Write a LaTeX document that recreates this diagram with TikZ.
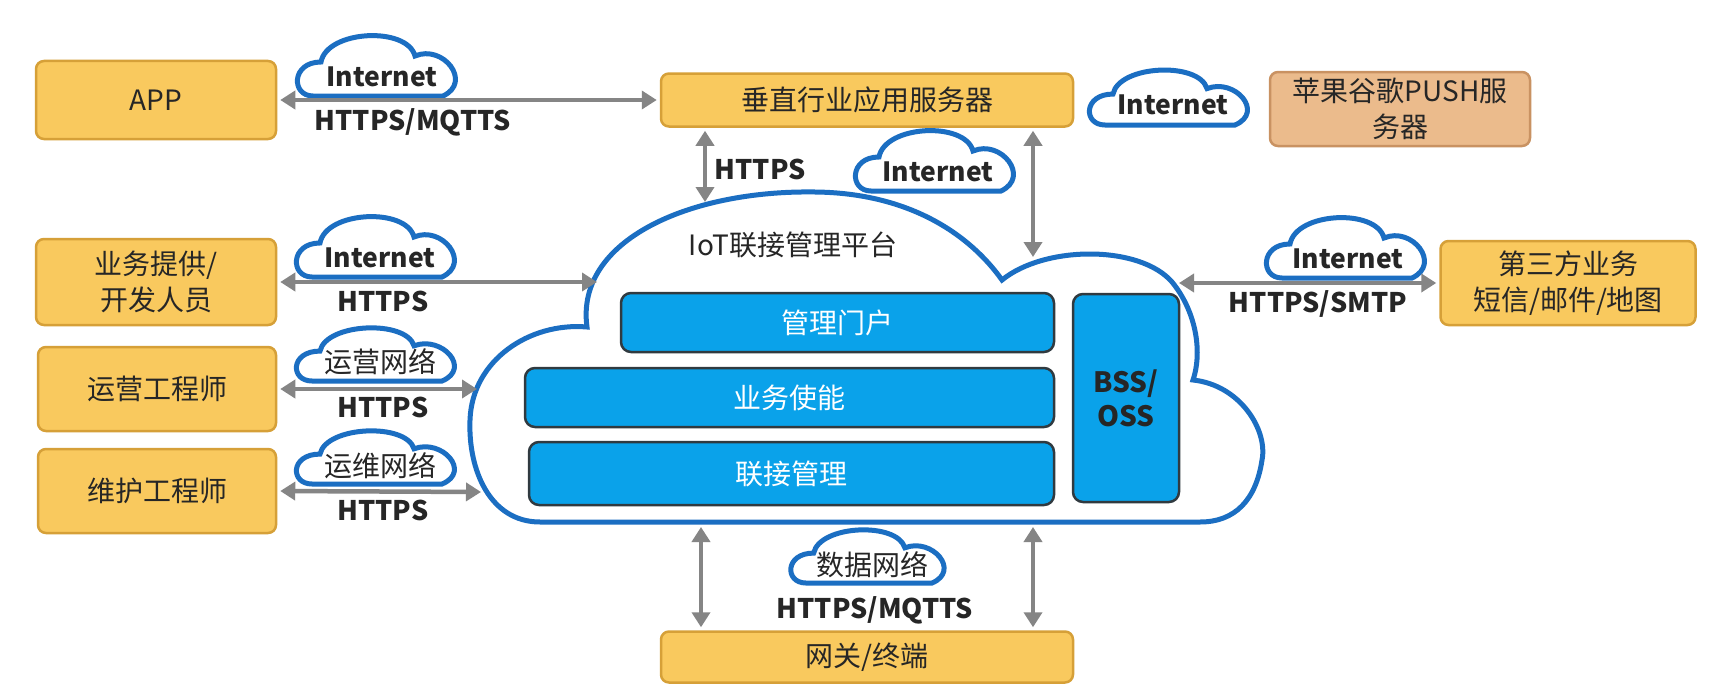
\documentclass[tikz,border=0pt]{standalone}
\usepackage{fontspec}
\setmainfont{Noto Sans CJK SC}
\usetikzlibrary{arrows.meta}

\definecolor{boxyellow}{HTML}{F9C95E}
\definecolor{boxedge}{HTML}{D6A038}
\definecolor{pushtan}{HTML}{EBBB8C}
\definecolor{pushedge}{HTML}{C99262}
\definecolor{barblue}{HTML}{0AA2EA}
\definecolor{baredge}{HTML}{303A40}
\definecolor{cloudblue}{HTML}{1B6EC2}
\definecolor{linkgray}{HTML}{858585}
\definecolor{txtdark}{HTML}{262626}

\tikzset{
  ybox/.style={draw=boxedge, fill=boxyellow, line width=2.5pt, rounded corners=8pt,
    text=txtdark, align=center, inner sep=0pt, font=\fontsize{28}{36}\selectfont},
  bar/.style={draw=baredge, fill=barblue, line width=2.5pt, rounded corners=10pt,
    text=white, align=center, inner sep=0pt, font=\fontsize{28}{36}\selectfont},
  link/.style={draw=linkgray, line width=4.5pt,
    {Triangle[length=15pt,width=18pt]}-{Triangle[length=15pt,width=18pt]},
    shorten <=3pt, shorten >=3pt},
  proto/.style={text=txtdark, inner sep=0pt, font=\bfseries\fontsize{27}{32}\selectfont},
  nettxt/.style={text=txtdark, inner sep=0pt, font=\bfseries\fontsize{26.5}{32}\selectfont},
  cjktxt/.style={text=txtdark, inner sep=0pt, font=\fontsize{28}{34}\selectfont},
  cloudline/.style={draw=cloudblue, line width=5pt, fill=white},
  netcloud/.pic={
    \path[cloudline] (-64,0) .. controls (-86,0) and (-86,-34) .. (-56,-34)
      .. controls (-50,-66) and (30,-70) .. (38,-40)
      .. controls (66,-52) and (96,-14) .. (66,0) -- cycle;
  }
}

\begin{document}
\begin{tikzpicture}[x=1pt,y=-1pt]
    \useasboundingbox[fill=white] (0,0) rectangle (1720,693);

    % IoT platform cloud
    \path[cloudline]
        (540,522) .. controls (490,522) and (468,470) .. (470,420)
        .. controls (472,360) and (530,322) .. (587,327)
        .. controls (575,240) and (690,190) .. (815,192)
        .. controls (910,193) and (970,235) .. (1002,280)
        .. controls (1045,245) and (1140,245) .. (1172,282)
        .. controls (1195,310) and (1203,350) .. (1193,380)
        .. controls (1240,385) and (1268,430) .. (1262,460)
        .. controls (1256,500) and (1235,522) .. (1200,522)
        -- cycle;
    \node[cjktxt] (title) at (793,245) {IoT联接管理平台};

    \node[bar, minimum width=433pt, minimum height=59pt] (portal) at (837.5,322.5) {管理门户};
    \node[bar, minimum width=529pt, minimum height=59pt] (enable) at (789.5,397.5) {业务使能};
    \node[bar, minimum width=525pt, minimum height=63pt] (connect) at (791.5,473.5) {联接管理};
    \node[bar, minimum width=106pt, minimum height=208pt, text=txtdark,
          font=\bfseries\fontsize{28}{34}\selectfont] (bss) at (1126,398) {BSS/\\OSS};

    \coordinate (cDev) at (600,282);
    \coordinate (cOps) at (480,389);
    \coordinate (cMnt) at (484,492);
    \coordinate (cTopL) at (705,205);
    \coordinate (cTopR) at (1033,260);
    \coordinate (cRight) at (1176,283);
    \coordinate (cBotL) at (701,524);
    \coordinate (cBotR) at (1033,524);

    \node[ybox, minimum width=240pt, minimum height=78pt] (app) at (156,100) {APP};
    \node[ybox, minimum width=240pt, minimum height=86pt] (dev) at (156,282) {业务提供/\\开发人员};
    \node[ybox, minimum width=238pt, minimum height=84pt] (ops) at (157,389) {运营工程师};
    \node[ybox, minimum width=238pt, minimum height=84pt] (mnt) at (157,491) {维护工程师};
    \node[ybox, minimum width=412pt, minimum height=53pt] (srv) at (867,100) {垂直行业应用服务器};
    \node[ybox, draw=pushedge, fill=pushtan, minimum width=260pt, minimum height=74pt] (push) at (1400,109) {苹果谷歌PUSH服\\务器};
    \node[ybox, minimum width=255pt, minimum height=84pt] (third) at (1568,283) {第三方业务\\短信/邮件/地图};
    \node[ybox, minimum width=412pt, minimum height=51pt] (gw) at (867,657) {网关/终端};

    \pic at (377,96) {netcloud};
    \pic[yscale=0.91] at (1169,125) {netcloud};
    \pic at (935,191) {netcloud};
    \pic at (376,277) {netcloud};
    \pic at (1346,278) {netcloud};
    \pic[yscale=0.88] at (376,381) {netcloud};
    \pic[yscale=0.88] at (376,484) {netcloud};
    \pic[yscale=0.88, xscale=0.97] at (868,583) {netcloud};

    \node[nettxt] (net1) at (382,77) {Internet};
    \node[nettxt] (net2) at (1173,105) {Internet};
    \node[nettxt] (net3) at (938,172) {Internet};
    \node[nettxt] (net4) at (380,258) {Internet};
    \node[nettxt] (net5) at (1348,259) {Internet};
    \node[cjktxt] (net6) at (380,362) {运营网络};
    \node[cjktxt] (net7) at (380,466) {运维网络};
    \node[cjktxt] (net8) at (872,565) {数据网络};

    \draw[link] (app.east) -- (srv.west);
    \draw[link] (dev.east) -- (cDev);
    \draw[link] (ops.east) -- (cOps);
    \draw[link] (mnt.east) -- (cMnt);
    \draw[link] (srv.south -| cTopL) -- (cTopL);
    \draw[link] (srv.south -| cTopR) -- (cTopR);
    \draw[link] (third.west) -- (cRight);
    \draw[link] (cBotL) -- (gw.north -| cBotL);
    \draw[link] (cBotR) -- (gw.north -| cBotR);

    \node[proto] (pApp) at (413,122) {HTTPS/MQTTS};
    \node[proto] (pDev) at (383,301) {HTTPS};
    \node[proto] (pOps) at (383,407) {HTTPS};
    \node[proto] (pMnt) at (383,510) {HTTPS};
    \node[proto] (pSrv) at (760,169) {HTTPS};
    \node[proto] (pThird) at (1318,304) {HTTPS/SMTP};
    \node[proto] (pGw) at (875,610) {HTTPS/MQTTS};
\end{tikzpicture}
\end{document}
